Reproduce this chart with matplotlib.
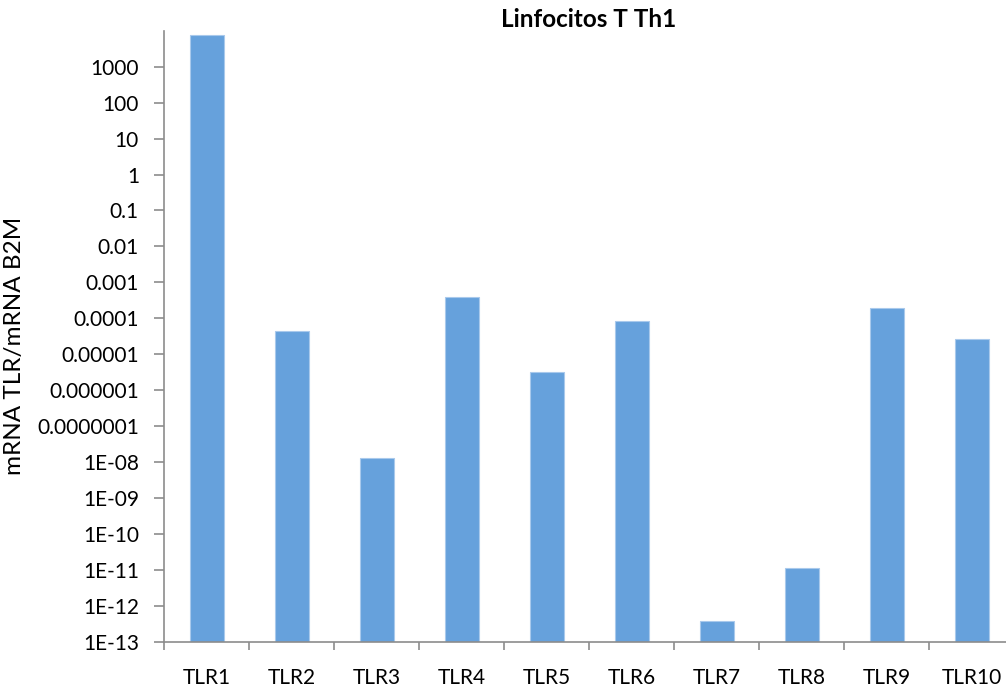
import numpy as np
import matplotlib
matplotlib.use("Agg")
import matplotlib.pyplot as plt
from matplotlib.ticker import FixedLocator, FixedFormatter

plt.rcParams["font.family"] = ["Lato", "DejaVu Sans"]

# data (log scale)
genes = ["TLR1", "TLR2", "TLR3", "TLR4", "TLR5",
         "TLR6", "TLR7", "TLR8", "TLR9", "TLR10"]
expr = [7600, 4.3e-5, 1.26e-8, 3.9e-4, 3.25e-6,
        8.5e-5, 3.8e-13, 1.12e-11, 1.9e-4, 2.6e-5]

ytick_vals = [10.0 ** k for k in range(-13, 4)]
ytick_labels = ["1E-13", "1E-12", "1E-11", "1E-10", "1E-09", "1E-08",
                "0.0000001", "0.000001", "0.00001", "0.0001", "0.001",
                "0.01", "0.1", "1", "10", "100", "1000"]

W, H = 1006, 693
fig = plt.figure(figsize=(W / 100, H / 100), dpi=100)
ax = fig.add_axes([164 / W, (H - 641.7) / H, (1014 - 164) / W, (641.7 - 30.8) / H])

x = np.arange(len(genes))
bottom = 1e-13
ax.bar(x, np.array(expr) - bottom, bottom=bottom, width=0.4,
       color="#66A1DC", edgecolor="#A9C9EC", linewidth=0.8)

ax.set_yscale("log")
ax.set_ylim(1e-13, 1e4)
ax.set_xlim(-0.5, len(genes) - 0.5)

ax.yaxis.set_major_locator(FixedLocator(ytick_vals))
ax.yaxis.set_major_formatter(FixedFormatter(ytick_labels))
ax.yaxis.set_minor_locator(FixedLocator([]))

ax.set_xticks(x)
ax.set_xticklabels(genes)
ax.set_xticks(np.arange(len(genes) + 1) - 0.5, minor=True)

axis_col = "#8C8C8C"
for s in ["top", "right"]:
    ax.spines[s].set_visible(False)
for s in ["left", "bottom"]:
    ax.spines[s].set_color(axis_col)
    ax.spines[s].set_linewidth(1.2)

ax.tick_params(axis="y", which="major", length=7, width=1.2, color=axis_col,
               pad=11, labelsize=15, labelcolor="black")
ax.tick_params(axis="x", which="major", length=0, pad=19, labelsize=15)
ax.tick_params(axis="x", which="minor", length=6, width=1.2, color=axis_col)

ax.set_ylabel("mRNA TLR/mRNA B2M", fontsize=17.5)
ax.yaxis.set_label_coords(-0.163, 0.485)
ax.set_title("Linfocitos T Th1", fontsize=17.5, fontweight="bold", pad=0)

fig.savefig("out.png", dpi=100)
